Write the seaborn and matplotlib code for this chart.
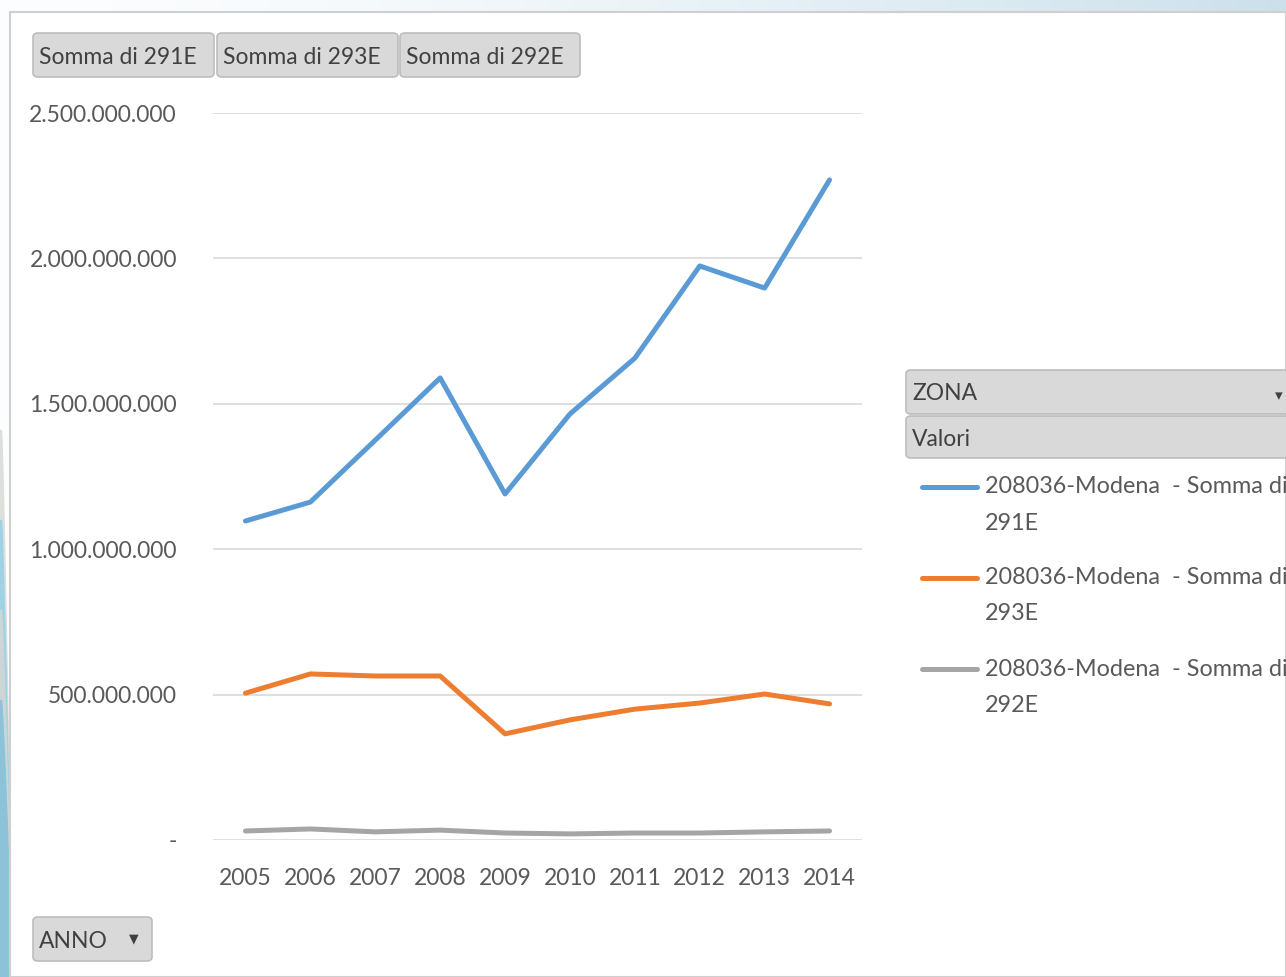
import matplotlib
matplotlib.use("Agg")
import matplotlib.pyplot as plt
import matplotlib.ticker as mticker
from matplotlib.patches import FancyBboxPatch, Rectangle
import numpy as np
import pandas as pd
import seaborn as sns

# data
anni = [2005, 2006, 2007, 2008, 2009, 2010, 2011, 2012, 2013, 2014]
somma_291E = [1.097e9, 1.162e9, 1.375e9, 1.589e9, 1.190e9, 1.465e9, 1.657e9, 1.974e9, 1.898e9, 2.270e9]
somma_293E = [0.505e9, 0.571e9, 0.564e9, 0.564e9, 0.365e9, 0.413e9, 0.450e9, 0.471e9, 0.502e9, 0.468e9]
somma_292E = [0.031e9, 0.038e9, 0.028e9, 0.034e9, 0.024e9, 0.021e9, 0.024e9, 0.024e9, 0.028e9, 0.031e9]
serie = ["208036-Modena  - Somma di 291E",
         "208036-Modena  - Somma di 293E",
         "208036-Modena  - Somma di 292E"]
colori = ["#5B9BD5", "#ED7D31", "#A5A5A5"]
pulsanti = ["Somma di 291E", "Somma di 293E", "Somma di 292E"]

df = pd.DataFrame({
    "ANNO": anni * 3,
    "valore": somma_291E + somma_293E + somma_292E,
    "serie": [s for s in serie for _ in anni],
})

sns.set_theme(style="white")
plt.rcParams["font.family"] = ["Lato", "DejaVu Sans"]

W, H = 1286, 977
fig = plt.figure(figsize=(W / 100, H / 100), dpi=100)
fig.patch.set_facecolor("white")


def px(x, y):
    # pixel coords (top-left origin) -> figure fraction
    return x / W, 1 - y / H


# background: slide gradient + white panel
bg = fig.add_axes([0, 0, 1, 1], zorder=-5)
grad = np.linspace(0, 1, 256)
img = np.zeros((2, 256, 3))
c0 = np.array([0.99, 0.995, 1.0])
c1 = np.array([0.80, 0.88, 0.92])
for i in range(3):
    img[:, :, i] = c0[i] + (c1[i] - c0[i]) * grad ** 1.5
bg.imshow(img, aspect="auto", extent=[0, W, H, 0])
# decorative swooshes on the left edge
for k, c in enumerate(["#DCDFDA", "#9FD2E4", "#CDD6D6", "#8DC3D8"]):
    yy = np.linspace(430 + 90 * k, H, 60)
    xx = 11 * ((yy - yy[0]) / (H - yy[0])) ** 0.8
    bg.fill_betweenx(yy, 0, xx + 1, color=c)
bg.add_patch(Rectangle((10, 12), W - 10, H - 12, facecolor="white", edgecolor="#CFCFCF", lw=1.5))
bg.set_xlim(0, W)
bg.set_ylim(H, 0)
bg.axis("off")

# chart area
ax = fig.add_axes([213 / W, 1 - 840 / H, (862 - 213) / W, (840 - 113) / H])
sns.lineplot(data=df, x="ANNO", y="valore", hue="serie", palette=colori,
             linewidth=3.6, ax=ax, legend=False)
ax.set_xlim(2004.5, 2014.5)
ax.set_ylim(0, 2.5e9)
ax.set_xticks(anni)
ax.set_yticks([0, 5e8, 1e9, 1.5e9, 2e9, 2.5e9])


def fmt(v, pos):
    if v == 0:
        return "-"
    return f"{int(v):,}".replace(",", ".")


ax.yaxis.set_major_formatter(mticker.FuncFormatter(fmt))
ax.grid(axis="y", color="#D9D9D9", lw=1.2)
ax.set_axisbelow(True)
for s in ax.spines.values():
    s.set_visible(False)
ax.tick_params(axis="both", length=0, labelsize=16.5, labelcolor="#595959")
ax.tick_params(axis="y", pad=26)
ax.tick_params(axis="x", pad=20)
ax.set_xlabel("")
ax.set_ylabel("")
ax.set_facecolor("none")


def bottone(x0, y0, x1, y1, testo, freccia=False, fs=16.5):
    a, b = px(x0, y1)
    w, h = (x1 - x0) / W, (y1 - y0) / H
    fig.add_artist(FancyBboxPatch((a, b), w, h, boxstyle="round,pad=0,rounding_size=0.004",
                                  transform=fig.transFigure, facecolor="#D9D9D9",
                                  edgecolor="#BDBDBD", lw=1.2))
    tx, ty = px(x0 + 6, (y0 + y1) / 2 + 2)
    fig.text(tx, ty, testo, fontsize=fs, color="#404040", va="center", ha="left")
    if freccia:
        fx, fy = px(x1 - 18, (y0 + y1) / 2)
        fig.text(fx, fy, "\u25BC", fontsize=9, color="#404040", va="center", ha="center",
                 family="DejaVu Sans")


bottone(33, 33, 214, 77, pulsanti[0])
bottone(217, 33, 398, 77, pulsanti[1])
bottone(400, 33, 580, 77, pulsanti[2])
bottone(33, 917, 152, 961, "ANNO", freccia=True)
bottone(906, 370, 1300, 414, "ZONA")
bottone(906, 416, 1300, 458, "Valori")
fx, fy = px(1279, 396)
fig.text(fx, fy, "\u25BE", fontsize=11, color="#404040", va="center", ha="center",
         family="DejaVu Sans")

# legend (text wraps onto a second line)
for k, (nome, col) in enumerate(zip(serie, colori)):
    y = 487 + 91 * k
    a, b = px(922, y)
    c, _ = px(977, y)
    fig.add_artist(plt.Line2D([a, c], [b, b], color=col, lw=3.6, transform=fig.transFigure))
    riga1, riga2 = nome.rsplit(" ", 1)
    tx, ty = px(985, y)
    fig.text(tx, ty, riga1, fontsize=16.8, color="#595959", va="center", ha="left")
    tx, ty = px(985, y + 36)
    fig.text(tx, ty, riga2, fontsize=16.8, color="#595959", va="center", ha="left")

fig.savefig("out.png", dpi=100)
